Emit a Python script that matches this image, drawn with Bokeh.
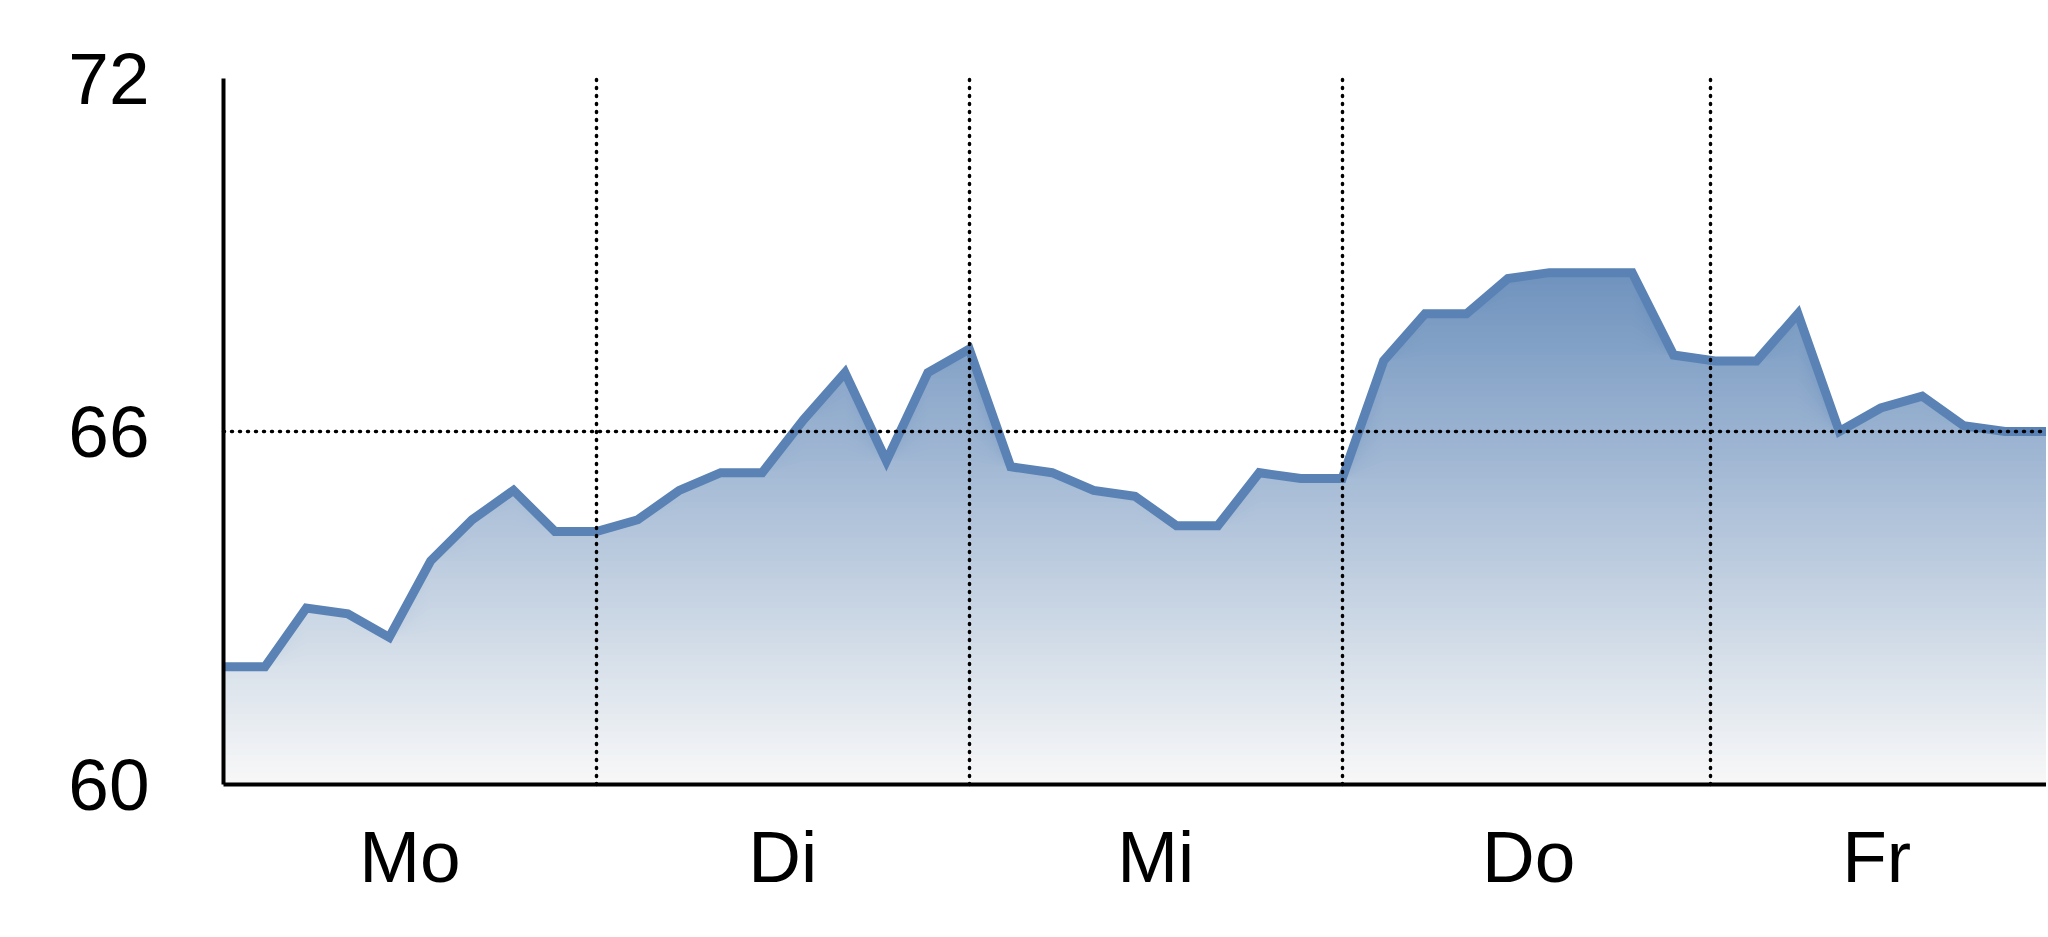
import numpy as np
from bokeh.plotting import figure
from bokeh.models import Range1d, FixedTicker
from bokeh.embed import file_html
from bokeh.resources import INLINE

# ---- data -------------------------------------------------------------
values = [62.0, 62.0, 63.0, 62.9, 62.5, 63.8, 64.5, 65.0, 64.3, 64.3,
          64.5, 65.0, 65.3, 65.3, 66.2, 67.0, 65.5, 67.0, 67.4,
          65.4, 65.3, 65.0, 64.9, 64.4, 64.4, 65.3, 65.2, 65.2,
          67.2, 68.0, 68.0, 68.6, 68.7, 68.7, 68.7, 67.3, 67.2,
          67.2, 68.0, 66.0, 66.4, 66.6, 66.1, 66.0, 66.0]
day_labels = ["Mo", "Di", "Mi", "Do", "Fr"]
day_centers = [4.5, 13.5, 22.5, 31.5, 39.9]
day_bounds = [9, 18, 27, 35.9]
y_ticks = [60, 66, 72]
y_grid = [66]

x = np.arange(len(values))
vals = np.array(values)

FONT = "Liberation Sans"

p = figure(width=2046, height=920, output_backend="svg", toolbar_location=None,
           x_range=Range1d(0, len(values) - 1), y_range=Range1d(60, 72),
           min_border_left=223, min_border_right=0, min_border_top=78,
           min_border_bottom=136)
p.outline_line_color = None
p.background_fill_color = "white"
p.border_fill_color = "white"

# ---- gradient area (stacked bands) ------------------------------------
top_c = np.array([106, 143, 188])
bot_c = np.array([248, 248, 248])
levels = np.linspace(60, 72, 121)[1:]
for L in levels[::-1]:
    t = min(max((L - 0.05 - 60) / 9.0, 0.0), 1.0)
    c = bot_c + t * (top_c - bot_c)
    col = "#%02x%02x%02x" % tuple(int(round(v)) for v in c)
    p.varea(x=x, y1=60, y2=np.minimum(vals, L), fill_color=col, fill_alpha=1.0)

p.line(x, vals, line_width=9, line_color="#5a82b4", line_join="miter")

# ---- axes --------------------------------------------------------------
for ax in (p.xaxis[0], p.yaxis[0]):
    ax.axis_line_width = 4
    ax.axis_line_color = "black"
    ax.major_tick_line_color = None
    ax.minor_tick_line_color = None
    ax.major_tick_in = 0
    ax.major_tick_out = 0
    ax.major_label_text_font = FONT
    ax.major_label_text_font_size = "73px"
    ax.major_label_text_color = "black"

p.yaxis.ticker = FixedTicker(ticks=y_ticks)
p.yaxis.major_label_standoff = 74

p.xaxis.ticker = FixedTicker(ticks=day_centers)
p.xaxis.major_label_overrides = {c: l for c, l in zip(day_centers, day_labels)}
p.xaxis.major_label_standoff = 31

# ---- dotted grid on top ------------------------------------------------
p.xgrid.ticker = FixedTicker(ticks=day_bounds)
p.ygrid.ticker = FixedTicker(ticks=y_grid)
for g in (p.xgrid[0], p.ygrid[0]):
    g.grid_line_color = "black"
    g.grid_line_width = 3.5
    g.grid_line_dash = "1 7"
    g.grid_line_cap = "round"
    g.grid_line_alpha = 1.0
    g.level = "overlay"

open("out.html", "w").write(file_html(p, INLINE))
